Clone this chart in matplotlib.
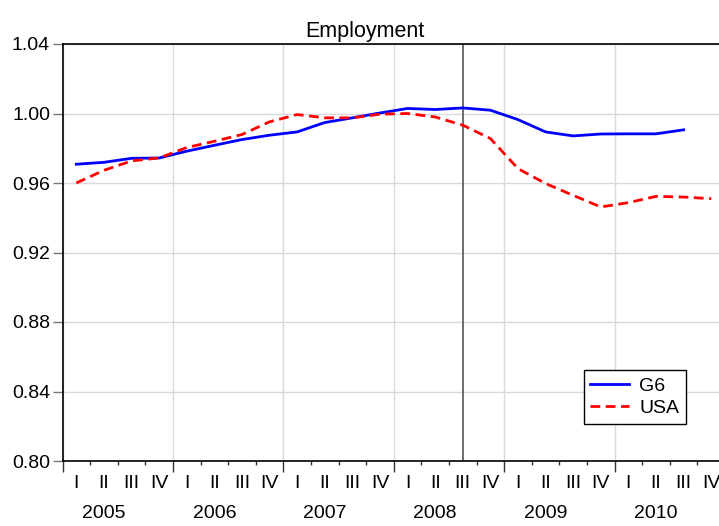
import numpy as np
import matplotlib.pyplot as plt

plt.rcParams['font.family'] = ['Liberation Sans', 'DejaVu Sans']

years = ['2005', '2006', '2007', '2008', '2009', '2010']
quarters = ['I', 'II', 'III', 'IV']

# quarterly employment index, 2005Q1 .. 2010Q4
g6 = [0.9708, 0.9719, 0.9742, 0.9744, 0.9783, 0.9817, 0.9850, 0.9875,
      0.9894, 0.9948, 0.9975, 1.0003, 1.0029, 1.0023, 1.0032, 1.0019,
      0.9965, 0.9894, 0.9871, 0.9882, 0.9883, 0.9883, 0.9906]
usa = [0.9600, 0.9673, 0.9727, 0.9744, 0.9804, 0.9840, 0.9879, 0.9952,
       0.9994, 0.9975, 0.9975, 0.9996, 1.0000, 0.9980, 0.9933, 0.9856,
       0.9683, 0.9597, 0.9529, 0.9462, 0.9487, 0.9523, 0.9519, 0.9510]
event_quarter = 14  # 2008 III
yticks = [0.80, 0.84, 0.88, 0.92, 0.96, 1.00, 1.04]

n = len(years) * 4
x = np.arange(n)

fig = plt.figure(figsize=(7.19, 5.26), dpi=100)
ax = fig.add_axes([62.5 / 719, 65 / 526, 662.5 / 719, 417 / 526])

ax.plot(x[:len(g6)], g6, color='#0000ff', lw=2.0, label='G6', zorder=3)
ax.plot(x[:len(usa)], usa, color='#ff0000', lw=2.0, ls=(0, (3.5, 2)), label='USA', zorder=3)
ax.axvline(event_quarter, color='#555555', lw=1.2, zorder=2)

ax.set_xlim(-0.5, n - 0.5)
ax.set_ylim(0.80, 1.04)
ax.set_yticks(yticks)
ax.set_yticklabels(['%.2f' % v for v in yticks])

year_edges = np.arange(-0.5, n, 4)
ax.set_xticks(year_edges)
ax.set_xticklabels([])
ax.set_xticks(np.arange(-0.5, n, 1), minor=True)
ax.tick_params(axis='x', which='major', length=8, width=1, color='#333333')
ax.tick_params(axis='x', which='minor', length=3, width=1, color='#333333')
ax.tick_params(axis='y', length=7, width=1, color='#777777', labelsize=14, pad=2)

ax.grid(True, which='major', color='#d9d9d9', lw=1)
ax.set_axisbelow(True)

trans = ax.get_xaxis_transform()
for i in range(n):
    ax.text(i, -0.055, quarters[i % 4], transform=trans, ha='center', va='center', fontsize=14)
for k, yr in enumerate(years):
    ax.text(4 * k + 1, -0.125, yr, transform=trans, ha='center', va='center', fontsize=14)

for s in ['left', 'bottom', 'top']:
    ax.spines[s].set_color('black')
    ax.spines[s].set_linewidth(1.2)
ax.spines['right'].set_visible(False)

ax.set_title('Employment', fontsize=15.5, pad=5, x=0.4566)

leg = ax.legend(loc='lower right', bbox_to_anchor=(0.941, 0.089), borderaxespad=0,
                fontsize=14, frameon=True, fancybox=False, edgecolor='black', framealpha=1,
                handlelength=2.0, borderpad=0.35, labelspacing=0.25, handletextpad=0.5)
leg.get_frame().set_linewidth(1)

plt.savefig('out.png', dpi=100)
